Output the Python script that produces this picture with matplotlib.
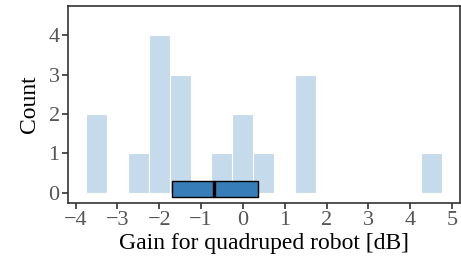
import matplotlib
matplotlib.use("Agg")
import matplotlib.pyplot as plt
import numpy as np

# Histogram data (bin edges and counts)
bin_edges = [-3.75, -3.25, -2.75, -2.25, -1.75, -1.25, -0.75, -0.25, 0.25,
             0.75, 1.25, 1.75, 2.25, 2.75, 3.25, 3.75, 4.25, 4.75]
counts = [2, 0, 1, 4, 3, 0, 1, 2, 1, 0, 3, 0, 0, 0, 0, 0, 1]

# Box summary
box_q1 = -1.70
box_median = -0.68
box_q3 = 0.35

xticks = [-4, -3, -2, -1, 0, 1, 2, 3, 4, 5]
yticks = [0, 1, 2, 3, 4]

plt.rcParams['font.family'] = ['Liberation Serif', 'DejaVu Serif']

fig = plt.figure(figsize=(4.61, 2.63), dpi=100)
ax = fig.add_axes([68/461, 1-203/263, (460-68)/461, (203-6)/263])

edges = np.array(bin_edges)
ax.bar(edges[:-1], counts, width=np.diff(edges), align='edge',
       color='#c5daea', edgecolor='white', linewidth=0.8, zorder=1)

stats = [dict(med=box_median, q1=box_q1, q3=box_q3, whislo=box_q1, whishi=box_q3, fliers=[])]
bp = ax.bxp(stats, positions=[0.09], widths=0.42, vert=False, patch_artist=True,
            showcaps=False, showfliers=False, manage_ticks=False,
            boxprops=dict(facecolor='#377eb8', edgecolor='black', linewidth=1.0),
            medianprops=dict(color='black', linewidth=2.4),
            whiskerprops=dict(linewidth=0))
for b in bp['boxes']:
    b.set_zorder(3)
for m in bp['medians']:
    m.set_zorder(4)

ax.set_xlim(-4.18, 5.19)
ax.set_ylim(-0.26, 4.74)
ax.set_xticks(xticks)
ax.set_xticklabels([("\u2212" + str(-t)) if t < 0 else str(t) for t in xticks])
ax.set_yticks(yticks)

for s in ax.spines.values():
    s.set_color('#333333')
    s.set_linewidth(1.2)

ax.tick_params(axis='both', direction='out', length=4, width=1.2, color='#333333',
               labelcolor='#555555', labelsize=16, pad=2)
ax.set_xlabel('Gain for quadruped robot [dB]', fontsize=17, color='black', labelpad=2)
ax.set_ylabel('Count', fontsize=17, color='black', labelpad=6)

fig.savefig('out.png', dpi=100)
